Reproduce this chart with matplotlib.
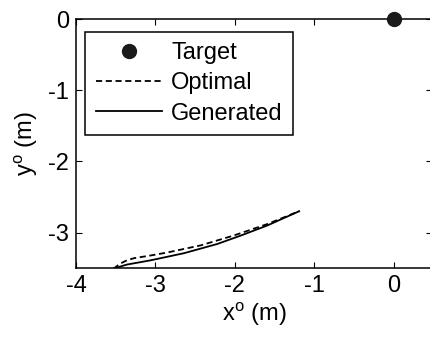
import matplotlib
matplotlib.use("Agg")
import matplotlib.pyplot as plt

# trajectory data (m)
opt_x = [-3.53, -3.45, -3.36, -3.27, -3.05, -2.85, -2.43, -2.01, -1.59, -1.19]
opt_y = [-3.51, -3.44, -3.39, -3.36, -3.32, -3.28, -3.18, -3.04, -2.88, -2.70]
gen_x = [-3.53, -3.45, -3.36, -3.06, -2.64, -2.22, -1.92, -1.59, -1.19]
gen_y = [-3.51, -3.48, -3.45, -3.39, -3.29, -3.16, -3.04, -2.90, -2.70]
target_x = [0]
target_y = [0]

plt.rcParams['font.family'] = ['Liberation Sans', 'DejaVu Sans']
plt.rcParams['mathtext.fontset'] = 'custom'
plt.rcParams['mathtext.rm'] = 'Liberation Sans'
plt.rcParams['axes.unicode_minus'] = False

fig = plt.figure(figsize=(4.3, 3.42), dpi=100)
ax = fig.add_axes([0.177, 0.216, 0.827, 0.728])

ax.plot(target_x, target_y, 'o', color='#1a1a1a', ms=10, clip_on=False, label='Target', zorder=5)
ax.plot(opt_x, opt_y, '--', color='black', lw=1.3, label='Optimal', dashes=(3.4, 2.0))
ax.plot(gen_x, gen_y, '-', color='black', lw=1.3, label='Generated')

ax.set_xlim(-4, 0.48)
ax.set_ylim(-3.5, 0)
ax.set_xticks([-4, -3, -2, -1, 0])
ax.set_yticks([-3, -2, -1, 0])
for s in ax.spines.values():
    s.set_linewidth(1.1)
ax.tick_params(direction='in', top=True, right=True, labelsize=17, length=4, pad=5)
ax.set_xlabel(r'x$^\mathregular{o}$ (m)', fontsize=17, labelpad=2)
ax.set_ylabel(r'y$^\mathregular{o}$ (m)', fontsize=17, labelpad=6)

leg = ax.legend(loc='upper left', bbox_to_anchor=(0.025, 0.95), borderaxespad=0,
                fontsize=17, fancybox=False, edgecolor='black', framealpha=1,
                handlelength=2.8, labelspacing=0.35, borderpad=0.45, handletextpad=0.4)
leg.get_frame().set_linewidth(1.1)

fig.savefig('out.png', dpi=100)
